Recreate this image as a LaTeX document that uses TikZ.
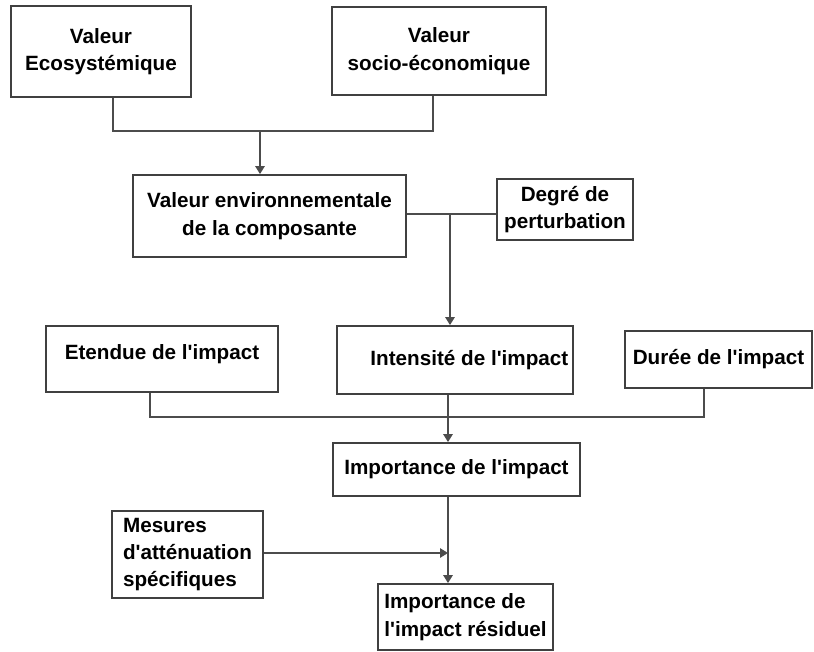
\documentclass[tikz,border=0pt]{standalone}
\usepackage{fontspec}
\setmainfont{Liberation Sans}[Ligatures=TeXOff]
\usetikzlibrary{arrows.meta}

\begin{document}
\begin{tikzpicture}[x=0.75pt, y=-0.75pt,
  boite/.style={draw=black!75, line width=1.35pt, align=center, inner sep=2pt,
    font=\fontsize{15.5}{20.5}\selectfont\bfseries},
  lien/.style={draw=black!70, line width=1.35pt},
  fleche/.style={lien, -{Triangle[width=7pt,length=6pt]}}]
\useasboundingbox (0,0) rectangle (814,652);

% Les deux valeurs du haut
\node[boite, minimum width=135pt, minimum height=68.25pt] (ecosys) at (101,51.5) {Valeur\\Ecosystémique};
\node[boite, minimum width=160.5pt, minimum height=66pt] (socio) at (439,51) {Valeur\\socio-économique};

% Valeur environnementale et degré de perturbation
\node[boite, minimum width=204.75pt, minimum height=61.5pt] (valenv) at (269.5,216) {Valeur environnementale\\de la composante};
\node[boite, minimum width=102pt, minimum height=45.75pt] (degre) at (565,209.5) {Degré de\\perturbation};

% Les trois critères
\node[boite, minimum width=174pt, minimum height=49.5pt, text depth=10pt] (etendue) at (162,359) {Etendue de l'impact};
\node[boite, minimum width=177pt, minimum height=51pt, text width=170pt, align=flush right] (intensite) at (455,360) {Intensité de l'impact};
\node[boite, minimum width=140.25pt, minimum height=42.75pt] (duree) at (718.5,359.5) {Durée de l'impact};

% Importance, mesures et impact résiduel
\node[boite, minimum width=185.25pt, minimum height=39.75pt] (importance) at (456.5,469.5) {Importance de l'impact};
\node[boite, align=left, minimum width=113.25pt, minimum height=65.25pt] (mesures) at (187.5,554.5) {Mesures\\d'atténuation\\spécifiques};
\node[boite, align=left, minimum width=131.25pt, minimum height=49.5pt] (residuel) at (465.5,617) {Importance de\\l'impact résiduel};

% Points de jonction
\coordinate (g1) at (113,131);
\coordinate (d1) at (433,131);
\coordinate (m1) at (260,131);
\coordinate (m2) at (450,214);
\coordinate (g3) at (150,417);
\coordinate (d3) at (704,417);
\coordinate (m3) at (448,417);
\coordinate (m4) at (448,553);

% Les liens
\draw[lien] (g1 |- ecosys.south) -- (g1) -- (d1) -- (d1 |- socio.south);
\draw[fleche] (m1) -- (m1 |- valenv.north);
\draw[lien] (valenv.east |- m2) -- (m2 -| degre.west);
\draw[fleche] (m2) -- (m2 |- intensite.north);
\draw[lien] (g3 |- etendue.south) -- (g3) -- (d3) -- (d3 |- duree.south);
\draw[fleche] (m3 |- intensite.south) -- (m3 |- importance.north);
\draw[fleche] (m3 |- importance.south) -- (m3 |- residuel.north);
\draw[fleche] (mesures.east |- m4) -- (m4);
\end{tikzpicture}
\end{document}
